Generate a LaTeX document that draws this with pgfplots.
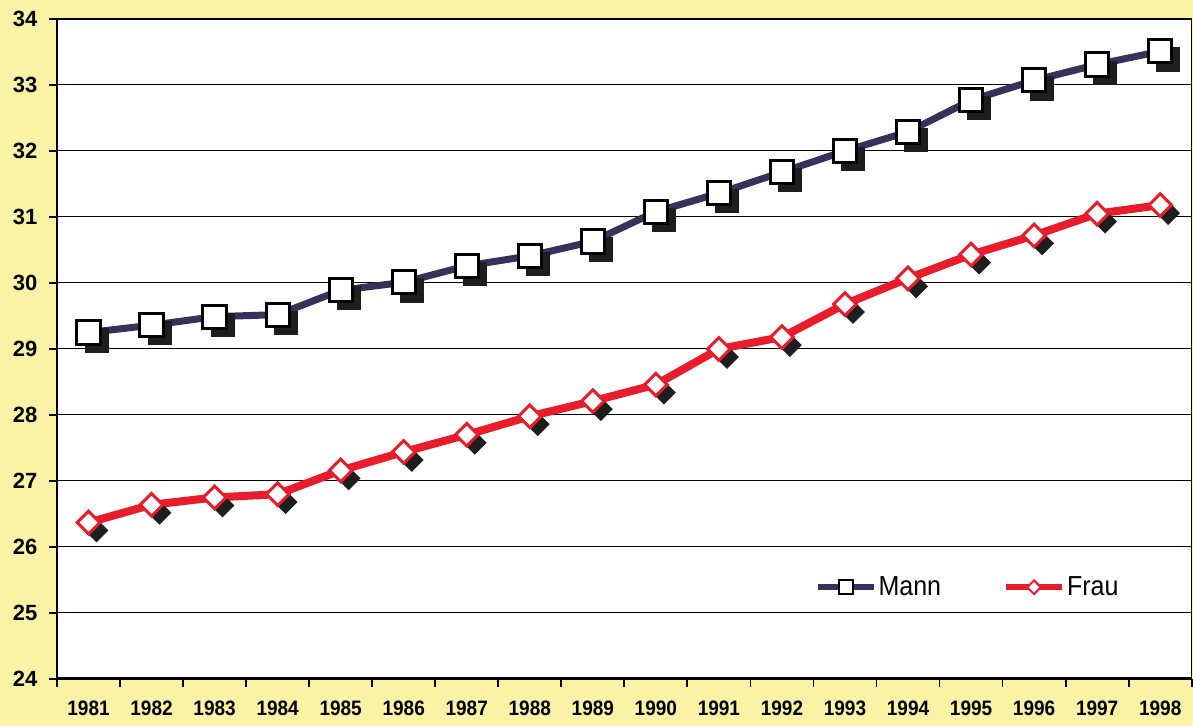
\documentclass[border=0pt]{standalone}
\usepackage{fontspec}
\setmainfont{Liberation Sans}
\usepackage{pgfplots}
\pgfplotsset{compat=1.18}
\definecolor{bg}{RGB}{250,242,165}
\definecolor{mann}{RGB}{55,50,92}
\definecolor{frau}{RGB}{232,28,42}
\definecolor{shad}{RGB}{30,30,30}

\pgfplotstableread{
x y
1 29.25
2 29.36
3 29.49
4 29.52
5 29.89
6 30.01
7 30.26
8 30.41
9 30.63
10 31.08
11 31.36
12 31.68
13 32.00
14 32.29
15 32.77
16 33.07
17 33.31
18 33.51
}\mann

\pgfplotstableread{
x y
1 26.37
2 26.64
3 26.75
4 26.80
5 27.16
6 27.44
7 27.70
8 27.98
9 28.21
10 28.46
11 29.00
12 29.18
13 29.68
14 30.07
15 30.43
16 30.72
17 31.05
18 31.18
}\frau

\begin{document}
\begin{tikzpicture}[x=1pt,y=1pt]
\fill[bg] (-28.5,-23.5) rectangle (568,339.5);
\begin{axis}[
  at={(0,0)}, anchor=south west,
  scale only axis, width=567.35pt, height=330pt,
  xmin=0.5, xmax=18.5, ymin=24, ymax=34,
  axis background/.style={fill=white},
  xtick={0.5,1.5,...,18.5},
  x tick label as interval,
  xticklabels={1981,1982,1983,1984,1985,1986,1987,1988,1989,1990,1991,1992,1993,1994,1995,1996,1997,1998},
  ytick={24,25,...,34},
  ymajorgrids, grid style={black, line width=0.5pt},
  tick align=outside, major tick length=3.8pt,
  tick style={black, line width=0.9pt},
  xtick pos=bottom, ytick pos=left,
  axis line style={line width=0.7pt},
  /pgf/number format/assume math mode=true,
  yticklabel style={font=\bfseries\fontsize{11}{12}\selectfont, xshift=-2.5pt},
  xticklabel style={font=\bfseries\fontsize{9.5}{11}\selectfont, yscale=1.1, yshift=-3pt},
  legend style={draw=none, fill=none, at={(rel axis cs:0.662,0.139)}, anchor=west,
    font=\fontsize{12.5}{14}\selectfont, legend columns=2,
    /tikz/every even column/.append style={column sep=30pt},
    nodes={inner sep=1pt, yscale=1.1}},
  legend image code/.code={\draw[mark repeat=2,mark phase=2,#1] plot coordinates {(0pt,0pt) (14pt,0pt) (28pt,0pt)};},
]
% shadows
\addplot[forget plot, only marks, mark=square*, mark size=5.8pt, mark options={fill=shad, draw=shad}, xshift=4pt, yshift=-4pt] table[x=x,y=y] {\mann};
\addplot[forget plot, only marks, mark=square*, mark size=4pt, mark options={rotate=45, fill=shad, draw=shad}, xshift=4pt, yshift=-4pt] table[x=x,y=y] {\frau};
% lines + marks
\addplot[forget plot, mann, line width=3.5pt, mark=square*, mark size=5.8pt, mark options={fill=white, draw=black, line width=1.5pt}] table[x=x,y=y] {\mann};
\addplot[forget plot, frau, line width=4pt, mark=square*, mark size=4pt, mark options={rotate=45, fill=white, draw=frau, line width=1.5pt}] table[x=x,y=y] {\frau};
\addlegendimage{mann, line width=3pt, mark=square*, mark size=3.5pt, mark options={fill=white, draw=black, line width=1pt}}
\addlegendentry{Mann}
\addlegendimage{frau, line width=3pt, mark=square*, mark size=2.4pt, mark options={rotate=45, fill=white, draw=frau, line width=1pt}}
\addlegendentry{Frau}
\draw[line width=2pt] (rel axis cs:0,0) -- (rel axis cs:1,0);
\end{axis}
\pgfresetboundingbox
\useasboundingbox (-28.5,-23.5) rectangle (568,339.5);
\end{tikzpicture}
\end{document}
